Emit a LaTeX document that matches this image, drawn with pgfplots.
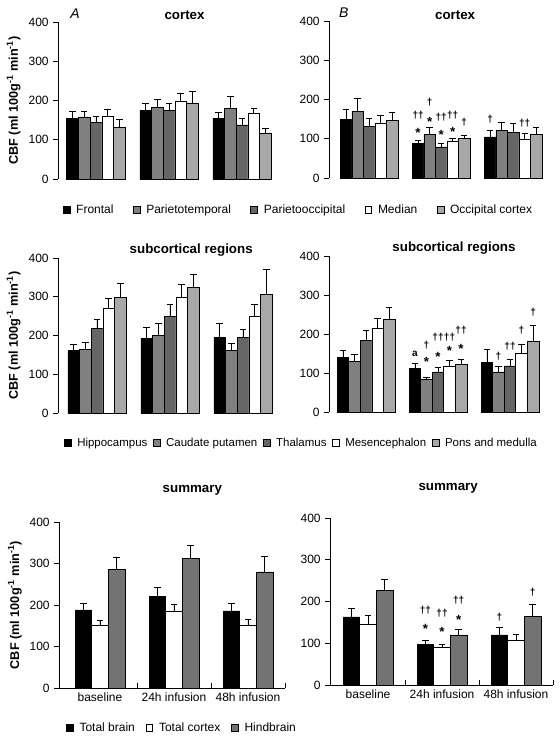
\documentclass[border=0pt]{standalone}
\usepackage{fontspec}
\setmainfont{Liberation Sans}
\usepackage{pgfplots}
\pgfplotsset{compat=1.18}
\definecolor{gPT}{gray}{0.50}
\definecolor{gPO}{gray}{0.40}
\definecolor{gOC}{gray}{0.66}
\definecolor{gHB}{gray}{0.45}
\pgfplotsset{
  panel/.style={scale only axis, anchor=south west, clip=false,
    ymin=0, ymax=400, ytick={0,100,200,300,400},
    enlargelimits=false,
    tick label style={font=\fontsize{9}{10}\selectfont},
    /pgf/number format/assume math mode=true,
    ytick align=outside, major tick length=3.5pt, minor tick length=4pt,
    tick style={black, line width=0.5pt},
    axis line style={black, line width=0.6pt},
    every axis title/.style={font=\bfseries\fontsize{10}{12}\selectfont, anchor=center},
    ylabel style={font=\bfseries\fontsize{9.5}{11}\selectfont, anchor=center},
    legend style={draw=none, fill=none, inner sep=0pt, anchor=west, font=\fontsize{9}{10}\selectfont,
      /tikz/every odd column/.append style={column sep=2.5pt}},
    legend columns=-1,
    legend cell align=left,
  },
  topmid/.style={panel, axis y line*=left, axis x line=none},
  bottom/.style={panel, axis lines*=left,
    xtick={0,1,2}, xticklabels={baseline,24h infusion,48h infusion},
    major x tick style={draw=none},
    minor xtick={0.5,1.5,2.5}, xtick align=inside},
  br/.style={ybar, bar width=#1, bar shift=0pt, draw=black, line width=0.4pt,
    error bars/y dir=plus, error bars/y explicit,
    error bars/error bar style={line width=0.5pt, black},
    error bars/error mark options={rotate=90, mark size=2.4pt, line width=0.5pt, black},
    /pgfplots/legend image code/.code={\draw[##1, /tikz/.cd, line width=0.4pt, draw=black] (0pt,-2.6pt) rectangle (5.2pt,2.6pt);}},
  ann/.style={draw=none, mark=none, forget plot, nodes near coords, point meta=explicit symbolic,
    every node near coord/.append style={anchor=center, inner sep=0pt, font=\bfseries\fontsize{7.5}{9}\selectfont}},
  annstar/.style={ann, every node near coord/.append style={font=\bfseries\fontsize{10}{11}\selectfont, yshift=-2.2pt}},
}
\begin{document}
\begin{tikzpicture}
\path[use as bounding box] (0,0) rectangle (420pt,555pt);

% ---------------- A: cortex
\begin{axis}[topmid, at={(43.5pt,420.75pt)}, width=166.5pt, height=117.75pt,
  xmin=-0.52, xmax=2.52,
  title=cortex, title style={at={(0.57,1.045)}},
  ylabel={CBF (ml 100g\textsuperscript{-1} min\textsuperscript{-1})},
  ylabel style={at={(axis description cs:-0.2,0.5)}},
  legend style={at={(axis description cs:0.02,-0.197)}, /tikz/every even column/.append style={column sep=12.5pt}}]
\addplot[br=0.16, fill=black] coordinates {(-0.32,155) +- (0,17) (0.68,175) +- (0,19) (1.68,155) +- (0,15)};
\addplot[br=0.16, fill=gPT] coordinates {(-0.16,158) +- (0,14) (0.84,183) +- (0,19) (1.84,179) +- (0,32)};
\addplot[br=0.16, fill=gPO] coordinates {(0,145) +- (0,14) (1,174) +- (0,20) (2,138) +- (0,17)};
\addplot[br=0.16, fill=white] coordinates {(0.16,161) +- (0,16) (1.16,198) +- (0,19) (2.16,168) +- (0,13)};
\addplot[br=0.16, fill=gOC] coordinates {(0.32,132) +- (0,19) (1.32,194) +- (0,29) (2.32,117) +- (0,13)};
\legend{Frontal, Parietotemporal, Parietooccipital, Median, Occipital cortex}
\node[font=\itshape\fontsize{10.5}{12}\selectfont] at (axis description cs:0.077,1.05) {A};
\end{axis}

% ---------------- B: cortex
\begin{axis}[topmid, at={(246.75pt,421.5pt)}, width=169.5pt, height=117.75pt,
  xmin=-0.556, xmax=2.58,
  title=cortex, title style={at={(0.558,1.038)}}]
\addplot[br=0.16, fill=black] coordinates {(-0.32,150) +- (0,25) (0.68,88) +- (0,8) (1.68,105) +- (0,17)};
\addplot[br=0.16, fill=gPT] coordinates {(-0.16,170) +- (0,34) (0.84,111) +- (0,18) (1.84,122) +- (0,21)};
\addplot[br=0.16, fill=gPO] coordinates {(0,132) +- (0,19) (1,79) +- (0,10) (2,116) +- (0,23)};
\addplot[br=0.16, fill=white] coordinates {(0.16,140) +- (0,20) (1.16,94) +- (0,6) (2.16,98) +- (0,17)};
\addplot[br=0.16, fill=gOC] coordinates {(0.32,147) +- (0,20) (1.32,100) +- (0,9) (2.32,111) +- (0,18)};
\addplot[ann] coordinates {(0.68,160) [††] (0.84,194) [†] (1,156) [††] (1.16,160) [††] (1.32,143) [†] (1.68,151) [†] (2.16,139) [††]};
\addplot[annstar] coordinates {(0.68,122) [*] (0.84,151) [*] (1,116) [*] (1.16,126) [*]};
\node[font=\itshape\fontsize{10.5}{12}\selectfont] at (axis description cs:0.066,1.05) {B};
\end{axis}

% ---------------- A: subcortical
\begin{axis}[topmid, at={(43.5pt,245.25pt)}, width=166.5pt, height=116.25pt,
  xmin=-0.534, xmax=2.507,
  title=subcortical regions, title style={at={(0.60,1.05)}},
  ylabel={CBF (ml 100g\textsuperscript{-1} min\textsuperscript{-1})},
  ylabel style={at={(axis description cs:-0.2,0.5)}},
  legend style={at={(axis description cs:0.025,-0.194)}, font=\fontsize{8.6}{10}\selectfont,
    /tikz/every even column/.append style={column sep=2pt}}]
\addplot[br=0.16, fill=black] coordinates {(-0.32,161) +- (0,17) (0.68,193) +- (0,28) (1.68,195) +- (0,37)};
\addplot[br=0.16, fill=gPT] coordinates {(-0.16,165) +- (0,18) (0.84,200) +- (0,32) (1.84,162) +- (0,18)};
\addplot[br=0.16, fill=gPO] coordinates {(0,218) +- (0,25) (1,249) +- (0,31) (2,195) +- (0,20)};
\addplot[br=0.16, fill=white] coordinates {(0.16,269) +- (0,26) (1.16,299) +- (0,32) (2.16,249) +- (0,31)};
\addplot[br=0.16, fill=gOC] coordinates {(0.32,298) +- (0,37) (1.32,324) +- (0,33) (2.32,307) +- (0,65)};
\legend{Hippocampus, Caudate putamen, Thalamus, Mesencephalon, Pons and medulla}
\end{axis}

% ---------------- B: subcortical
\begin{axis}[topmid, at={(246.75pt,246pt)}, width=169.5pt, height=117pt,
  xmin=-0.514, xmax=2.625,
  title=subcortical regions, title style={at={(0.553,1.05)}}]
\addplot[br=0.16, fill=black] coordinates {(-0.32,141) +- (0,17) (0.68,111) +- (0,15) (1.68,128) +- (0,33)};
\addplot[br=0.16, fill=gPT] coordinates {(-0.16,129) +- (0,19) (0.84,84) +- (0,6) (1.84,103) +- (0,15)};
\addplot[br=0.16, fill=gPO] coordinates {(0,184) +- (0,25) (1,103) +- (0,12) (2,118) +- (0,17)};
\addplot[br=0.16, fill=white] coordinates {(0.16,214) +- (0,25) (1.16,116) +- (0,16) (2.16,151) +- (0,22)};
\addplot[br=0.16, fill=gOC] coordinates {(0.32,238) +- (0,31) (1.32,122) +- (0,13) (2.32,181) +- (0,41)};
\addplot[ann] coordinates {(0.68,148) [a] (0.84,171) [†] (1,192) [††] (1.16,192) [††] (1.32,209) [††] (1.84,143) [†] (2,168) [††] (2.16,209) [†] (2.32,256) [†]};
\addplot[annstar] coordinates {(0.84,137) [*] (1,150) [*] (1.16,165) [*] (1.32,169) [*]};
\end{axis}

% ---------------- A: summary
\begin{axis}[bottom, at={(44.25pt,39pt)}, width=169.5pt, height=124.5pt,
  xmin=-0.554, xmax=2.5,
  title=summary, title style={at={(0.59,1.19)}},
  ylabel={CBF (ml 100g\textsuperscript{-1} min\textsuperscript{-1})},
  ylabel style={at={(axis description cs:-0.195,0.5)}},
  legend style={at={(axis description cs:0.03,-0.241)}, /tikz/every even column/.append style={column sep=6pt}}]
\addplot[br=0.225, fill=black] coordinates {(-0.225,188) +- (0,16) (0.775,220) +- (0,22) (1.775,186) +- (0,18)};
\addplot[br=0.225, fill=white] coordinates {(0,150) +- (0,14) (1,184) +- (0,18) (2,150) +- (0,16)};
\addplot[br=0.225, fill=gHB] coordinates {(0.225,286) +- (0,28) (1.225,312) +- (0,32) (2.225,280) +- (0,38)};
\legend{Total brain, Total cortex, Hindbrain}
\end{axis}

% ---------------- B: summary
\begin{axis}[bottom, at={(247.5pt,41.25pt)}, width=167.25pt, height=125.25pt,
  xmin=-0.514, xmax=2.5,
  title=summary, title style={at={(0.53,1.18)}}]
\addplot[br=0.225, fill=black] coordinates {(-0.225,163) +- (0,20) (0.775,98) +- (0,8) (1.775,120) +- (0,18)};
\addplot[br=0.225, fill=white] coordinates {(0,145) +- (0,22) (1,90) +- (0,8) (2,108) +- (0,14)};
\addplot[br=0.225, fill=gHB] coordinates {(0.225,227) +- (0,27) (1.225,120) +- (0,13) (2.225,165) +- (0,29)};
\addplot[ann] coordinates {(0.775,179) [††] (1,171) [††] (1.225,203) [††] (1.775,163) [†] (2.225,223) [†]};
\addplot[annstar] coordinates {(0.775,142) [*] (1,135) [*] (1.225,163) [*]};
\end{axis}
\end{tikzpicture}
\end{document}
